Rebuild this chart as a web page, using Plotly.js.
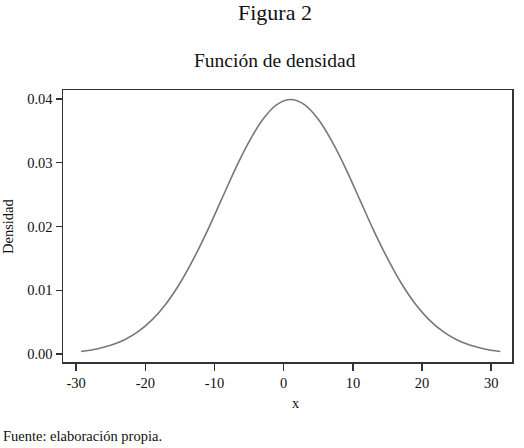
<!DOCTYPE html>
<html>
<head>
<meta charset="utf-8">
<script src="https://cdn.plot.ly/plotly-3.0.1.min.js"></script>
<style>
  html, body { margin: 0; padding: 0; background: #fff; }
  #chart { width: 524px; height: 448px; }
</style>
</head>
<body>
<div id="chart"></div>
<script>
// density curve, values
var xValues = [-29.3, -27, -25, -23, -21, -19, -17, -15, -13, -11, -9, -7, -5, -3, -1, 1,
               3, 5, 7, 9, 11, 13, 15, 17, 19, 21, 23, 25, 27, 29, 31.3];
var densValues = [0.0004, 0.0008, 0.00136, 0.00224, 0.00355, 0.0054, 0.0079, 0.0111, 0.0150, 0.0194,
                  0.0242, 0.0290, 0.0333, 0.0368, 0.0391, 0.0399,
                  0.0391, 0.0368, 0.0333, 0.0290, 0.0242, 0.0194, 0.0150, 0.0111, 0.0079, 0.0054,
                  0.00355, 0.00224, 0.00136, 0.0008, 0.0004];
var xTicks = [-30, -20, -10, 0, 10, 20, 30];
var yTicks = [0, 0.01, 0.02, 0.03, 0.04];

var serif = "Liberation Serif, Times New Roman, serif";

var trace = {
  x: xValues,
  y: densValues,
  type: "scatter",
  mode: "lines",
  line: { color: "#777777", width: 1.6, shape: "spline", smoothing: 1 },
  hoverinfo: "none"
};

var layout = {
  width: 524,
  height: 448,
  margin: { l: 63, r: 12, t: 90, b: 86 },
  paper_bgcolor: "#ffffff",
  plot_bgcolor: "#ffffff",
  showlegend: false,
  font: { family: serif, color: "#111111", size: 14 },
  xaxis: {
    range: [-31.9, 33.0],
    tickvals: xTicks,
    ticktext: xTicks.map(String),
    ticks: "outside",
    ticklen: 7,
    tickwidth: 1.5,
    tickcolor: "#333333",
    showline: true,
    linecolor: "#333333",
    linewidth: 1.5,
    mirror: true,
    showgrid: false,
    zeroline: false,
    tickfont: { family: serif, size: 14.5 },
    title: { text: "" }
  },
  yaxis: {
    range: [-0.00125, 0.0414],
    tickvals: yTicks,
    tickformat: ".2f",
    ticks: "outside",
    ticklen: 6,
    tickwidth: 1.5,
    tickcolor: "#333333",
    showline: true,
    linecolor: "#333333",
    linewidth: 1.5,
    mirror: true,
    showgrid: false,
    zeroline: false,
    tickfont: { family: serif, size: 14.5 },
    title: { text: "" }
  },
  annotations: [
    { text: "Figura 2", xref: "paper", yref: "paper", x: 0.472, y: 1.0,
      xanchor: "center", yanchor: "middle", yshift: 78, showarrow: false,
      font: { family: serif, size: 22, color: "#111111" } },
    { text: "Función de densidad", xref: "paper", yref: "paper", x: 0.472, y: 1.0,
      xanchor: "center", yanchor: "middle", yshift: 30, showarrow: false,
      font: { family: serif, size: 19.5, color: "#111111" } },
    { text: "x", xref: "paper", yref: "paper", x: 0.52, y: 0,
      xanchor: "center", yanchor: "middle", yshift: -41, showarrow: false,
      font: { family: serif, size: 14.5, color: "#111111" } },
    { text: "Densidad", xref: "paper", yref: "paper", x: 0, y: 0.5,
      xanchor: "center", yanchor: "middle", xshift: -55, textangle: -90, showarrow: false,
      font: { family: serif, size: 14.5, color: "#111111" } },
    { text: "Fuente: elaboración propia.", xref: "paper", yref: "paper", x: 0, y: 0,
      xanchor: "left", yanchor: "middle", xshift: -62, yshift: -74, showarrow: false,
      font: { family: serif, size: 14.5, color: "#111111" } }
  ]
};

Plotly.newPlot("chart", [trace], layout, { displayModeBar: false, staticPlot: true });
</script>
</body>
</html>
